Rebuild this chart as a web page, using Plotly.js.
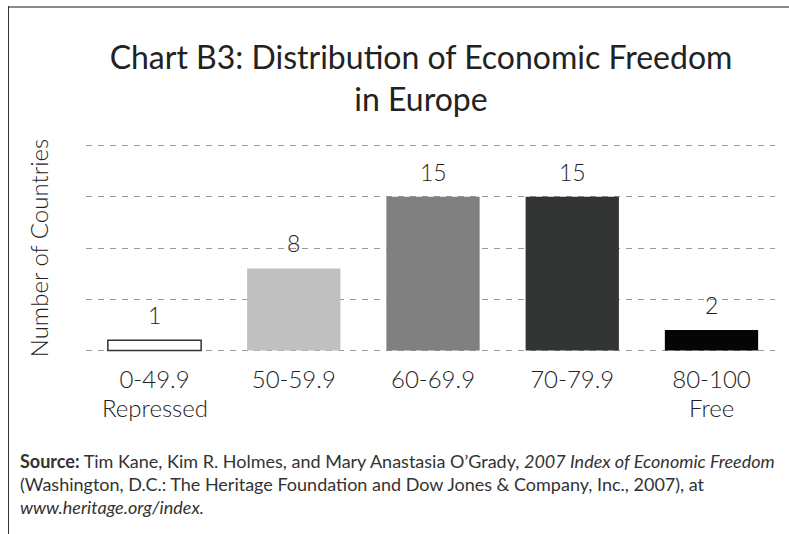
<!DOCTYPE html>
<html><head><meta charset="utf-8">
<script src="https://cdn.plot.ly/plotly-3.0.1.min.js"></script>
<style>
html,body{margin:0;padding:0;background:#fff;width:789px;height:534px;overflow:hidden;}
#chart{position:absolute;left:0;top:0;width:789px;height:534px;z-index:1;}
#frameTop{position:absolute;left:8px;top:6px;width:781px;height:2px;background:#8a8a8a;z-index:10;}
#frameLeft{position:absolute;left:8px;top:6px;width:1px;height:528px;background:#333;z-index:10;}
</style></head>
<body>
<div id="chart"></div>
<div id="frameTop"></div><div id="frameLeft"></div>
<script>
const categories = ["0-49.9", "50-59.9", "60-69.9", "70-79.9", "80-100"];
const subLabels = ["Repressed", "", "", "", "Free"];
const countries = [1, 8, 15, 15, 2];
const barColors = ["#ffffff", "#c0c0c0", "#808080", "#333535", "#050505"];
const barLineColors = ["#333333", "#c0c0c0", "#808080", "#333535", "#050505"];
const barLineWidths = [1.5, 0, 0, 0, 0];
const titleText = "Chart B3: Distribution of Economic Freedom<br>in Europe";
const yTitle = "Number of Countries";
const sourceLines = [
  "<b>Source:</b> Tim Kane, Kim R. Holmes, and Mary Anastasia O’Grady, <i>2007 Index of Economic Freedom</i>",
  "(Washington, D.C.: The Heritage Foundation and Dow Jones &amp; Company, Inc., 2007), at",
  "<i>www.heritage.org/index.</i>"
];

const FONT = "Lato, Open Sans, sans-serif";

const trace = {
  type: "bar",
  x: categories,
  y: countries,
  marker: {color: barColors, line: {color: barLineColors, width: barLineWidths}},
  width: 0.67,
  hoverinfo: "skip"
};

const annotations = categories.map((c, i) => ({
  x: c, y: countries[i], xref: "x", yref: "y",
  text: String(countries[i]), showarrow: false,
  yanchor: "bottom", yshift: 9,
  font: {family: FONT, size: 23, color: "#222", weight: 300}
}));

categories.forEach((c, i) => {
  if (!subLabels[i]) return;
  annotations.push({
    x: c, y: 0, xref: "x", yref: "y",
    text: subLabels[i], showarrow: false,
    yanchor: "middle", yshift: -57,
    font: {family: FONT, size: 24, color: "#222", weight: 300}
  });
});

const PT = 144, PH = 208;
const srcY = [461, 484, 507];
sourceLines.forEach((t, i) => {
  annotations.push({
    text: t, xref: "paper", yref: "paper",
    x: (18 - 86) / 689, y: 1 - (srcY[i] - PT) / PH,
    xanchor: "left", yanchor: "middle", showarrow: false, align: "left",
    font: {family: FONT, size: 18, color: "#333"}
  });
});

const layout = {
  width: 789, height: 534,
  margin: {l: 86, r: 14, t: PT, b: 534 - PT - PH, pad: 0},
  paper_bgcolor: "#ffffff", plot_bgcolor: "#ffffff",
  showlegend: false,
  title: {
    text: titleText, xref: "container", yref: "container",
    x: 421 / 789, xanchor: "center", y: 1 - 69 / 534, yanchor: "top",
    font: {family: FONT, size: 32, color: "#222"}
  },
  xaxis: {
    range: [-0.492, 4.456], showgrid: false, zeroline: false, showline: false,
    ticks: "", tickfont: {family: FONT, size: 24, color: "#222", weight: 300},
    ticklabelstandoff: 11, fixedrange: true
  },
  yaxis: {
    range: [-0.15, 20.15], dtick: 5, tick0: 0,
    showgrid: true, gridcolor: "#9a9a9a", gridwidth: 1, griddash: "6px,6px",
    zeroline: false, showline: false, showticklabels: false, ticks: "",
    title: {text: yTitle, standoff: 29, font: {family: FONT, size: 24, color: "#222", weight: 300}},
    automargin: false, fixedrange: true
  },
  annotations: annotations
};

Plotly.newPlot("chart", [trace], layout, {displayModeBar: false, staticPlot: true});
</script>
</body></html>
